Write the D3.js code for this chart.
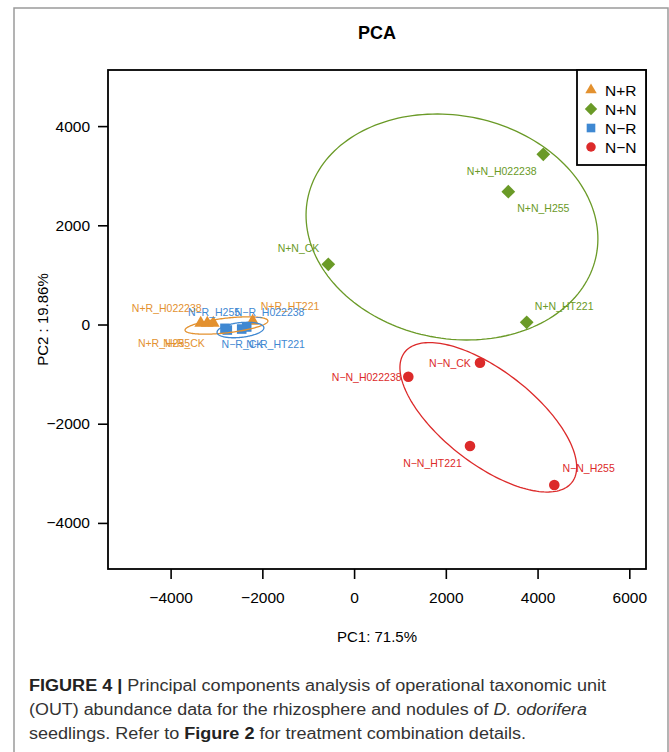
<!DOCTYPE html>
<html>
<head>
<meta charset="utf-8">
<script src="https://cdn.jsdelivr.net/npm/d3@7"></script>
<style>
  html, body { margin: 0; padding: 0; background: #fff; }
  svg { display: block; }
  text { font-family: "Liberation Sans", Arial, Helvetica, sans-serif; }
</style>
</head>
<body>
<svg id="chart" width="669" height="752"></svg>
<script>
// ---------- data ----------
const xDomain = [-5365, 6364];
const yDomain = [-4929, 5131];
const xTicks = [-4000, -2000, 0, 2000, 4000, 6000];
const yTicks = [-4000, -2000, 0, 2000, 4000];

const groups = ["N+R", "N+N", "N\u2212R", "N\u2212N"];
const samples = ["H022238", "H255", "CK", "HT221"];

// PC scores per group (order of samples)
const nrPC1 = [-3344, -3200, -3070, -2211];
const nrPC2 = [28, 28, 28, 70];
const nnPC1 = [4125, 3362, -562, 3763];
const nnPC2 = [3431, 2677, 1214, 44];
const nmrPC1 = [-2341, -2815, -2764, -2450];
const nmrPC2 = [-50, -77, -111, -91];
const nmnPC1 = [1182, 4365, 2745, 2527];
const nmnPC2 = [-1052, -3236, -770, -2450];

// label anchor positions (data units)
const nrLabX = [-4085, -4144, -3708, -1397];
const nrLabY = [339, -379, -379, 379];
const nnLabX = [3218, 4125, -1212, 4580];
const nnLabY = [3087, 2343, 1546, 369];
const nmrLabX = [-1842, -3054, -2433, -1711];
const nmrLabY = [246, 246, -399, -399];
const nmnLabX = [275, 5114, 2090, 1709];
const nmnLabY = [-1052, -2887, -770, -2786];

// confidence ellipses: centre, axis vector u, axis vector v (data units)
const ellCenter = [[-2782, -20], [2134, 1966], [-2477, -111], [2926, -1871]];
const ellU = [[903, 95], [3148, -561], [510, 50], [1823, -1312]];
const ellV = [[18, -147], [-459, -2208], [17, -148], [-623, -740]];

const colors = ["#E3912F", "#6A9A27", "#3F88D2", "#DC2A2A"];
const shapes = ["triangle", "diamond", "square", "circle"];

const pc1 = [nrPC1, nnPC1, nmrPC1, nmnPC1];
const pc2 = [nrPC2, nnPC2, nmrPC2, nmnPC2];
const labX = [nrLabX, nnLabX, nmrLabX, nmnLabX];
const labY = [nrLabY, nnLabY, nmrLabY, nmnLabY];

// ---------- layout ----------
const svg = d3.select("#chart");
const plot = { left: 108, right: 646, top: 70, bottom: 569 };

const x = d3.scaleLinear().domain(xDomain).range([plot.left, plot.right]);
const y = d3.scaleLinear().domain(yDomain).range([plot.bottom, plot.top]);
const fmt = d3.format("d");

// outer frame
svg.append("rect")
  .attr("x", 14).attr("y", 8).attr("width", 654).attr("height", 760)
  .attr("fill", "none").attr("stroke", "#9a9a9a").attr("stroke-width", 1.5);

// title
svg.append("text")
  .attr("x", (plot.left + plot.right) / 2).attr("y", 39)
  .attr("text-anchor", "middle")
  .attr("font-size", 18).attr("font-weight", "bold").attr("fill", "#000")
  .text("PCA");

// axes
const xAxis = svg.append("g")
  .attr("transform", `translate(0,${plot.bottom})`)
  .call(d3.axisBottom(x).tickValues(xTicks).tickFormat(fmt).tickSizeInner(10).tickSizeOuter(0).tickPadding(13));
const yAxis = svg.append("g")
  .attr("transform", `translate(${plot.left},0)`)
  .call(d3.axisLeft(y).tickValues(yTicks).tickFormat(fmt).tickSizeInner(10).tickSizeOuter(0).tickPadding(8));
[xAxis, yAxis].forEach(g => {
  g.select(".domain").remove();
  g.selectAll(".tick line").attr("stroke", "#000").attr("stroke-width", 1.6);
  g.selectAll(".tick text").attr("font-size", 15.5).attr("fill", "#000")
    .attr("font-family", "Liberation Sans, Arial, sans-serif");
});

// axis titles
svg.append("text")
  .attr("x", (plot.left + plot.right) / 2).attr("y", 642)
  .attr("text-anchor", "middle").attr("font-size", 15).attr("fill", "#000")
  .text("PC1: 71.5%");
svg.append("text")
  .attr("transform", `translate(48,${(plot.top + plot.bottom) / 2}) rotate(-90)`)
  .attr("text-anchor", "middle").attr("font-size", 15).attr("fill", "#000")
  .text("PC2 : 19.86%");

// clip for plot region
svg.append("clipPath").attr("id", "clip").append("rect")
  .attr("x", plot.left).attr("y", plot.top)
  .attr("width", plot.right - plot.left).attr("height", plot.bottom - plot.top);
const pg = svg.append("g").attr("clip-path", "url(#clip)");

function symbolPath(shape, s) {
  if (shape === "triangle") return d3.symbol(d3.symbolTriangle, 70 * s * s)();
  if (shape === "diamond") return d3.symbol(d3.symbolSquare, 95 * s * s)();
  if (shape === "square") return d3.symbol(d3.symbolSquare, 92 * s * s)();
  return d3.symbol(d3.symbolCircle, 88 * s * s)();
}

// points
groups.forEach((g, gi) => {
  const pts = samples.map((sName, i) => ({ px: pc1[gi][i], py: pc2[gi][i] }));
  pg.selectAll(null).data(pts).enter().append("path")
    .attr("d", symbolPath(shapes[gi], 1))
    .attr("transform", d => `translate(${x(d.px)},${y(d.py)})` + (shapes[gi] === "diamond" ? " rotate(45)" : ""))
    .attr("fill", colors[gi]);
});

// ellipses
const line = d3.line().x(d => x(d[0])).y(d => y(d[1])).curve(d3.curveLinearClosed);
groups.forEach((g, gi) => {
  const c = ellCenter[gi], u = ellU[gi], v = ellV[gi];
  const pts = d3.range(0, 360, 2).map(a => {
    const t = a * Math.PI / 180;
    return [c[0] + u[0] * Math.cos(t) + v[0] * Math.sin(t),
            c[1] + u[1] * Math.cos(t) + v[1] * Math.sin(t)];
  });
  pg.append("path").attr("d", line(pts))
    .attr("fill", "none").attr("stroke", colors[gi]).attr("stroke-width", 1.3);
});

// labels
groups.forEach((g, gi) => {
  const labs = samples.map((sName, i) => ({ t: g + "_" + sName, lx: labX[gi][i], ly: labY[gi][i] }));
  svg.selectAll(null).data(labs).enter().append("text")
    .attr("x", d => x(d.lx)).attr("y", d => y(d.ly))
    .attr("text-anchor", "middle").attr("dominant-baseline", "central")
    .attr("font-size", 10.5).attr("fill", colors[gi])
    .text(d => d.t);
});

// plot box
svg.append("rect")
  .attr("x", plot.left).attr("y", plot.top)
  .attr("width", plot.right - plot.left).attr("height", plot.bottom - plot.top)
  .attr("fill", "none").attr("stroke", "#000").attr("stroke-width", 1.8);

// legend
const leg = { left: 577, top: 70, bottom: 165 };
svg.append("rect")
  .attr("x", leg.left).attr("y", leg.top)
  .attr("width", plot.right - leg.left).attr("height", leg.bottom - leg.top)
  .attr("fill", "#fff").attr("stroke", "#000").attr("stroke-width", 1.8);
groups.forEach((g, gi) => {
  const cy = leg.top + 20 + gi * 19;
  svg.append("path")
    .attr("d", symbolPath(shapes[gi], 0.9))
    .attr("transform", `translate(591,${cy})` + (shapes[gi] === "diamond" ? " rotate(45)" : ""))
    .attr("fill", colors[gi]);
  svg.append("text")
    .attr("x", 605).attr("y", cy).attr("dominant-baseline", "central")
    .attr("font-size", 15.5).attr("fill", "#000").text(g);
});

// caption
const capLines = [
  [["FIGURE 4 | ", "bold", "normal"], ["Principal components analysis of operational taxonomic unit", "normal", "normal"]],
  [["(OUT) abundance data for the rhizosphere and nodules of ", "normal", "normal"], ["D. odorifera", "normal", "italic"]],
  [["seedlings. Refer to ", "normal", "normal"], ["Figure 2", "bold", "normal"], [" for treatment combination details.", "normal", "normal"]]
];
const capWidths = [577, 558, 497];
capLines.forEach((ln, li) => {
  const t = svg.append("text")
    .attr("x", 29).attr("y", 691 + li * 24)
    .attr("font-size", 16).attr("fill", "#333")
    .attr("textLength", capWidths[li]).attr("lengthAdjust", "spacingAndGlyphs");
  ln.forEach(seg => {
    t.append("tspan").attr("font-weight", seg[1]).attr("font-style", seg[2])
      .attr("fill", seg[1] === "bold" ? "#222" : "#333").text(seg[0]);
  });
});
</script>
</body>
</html>
